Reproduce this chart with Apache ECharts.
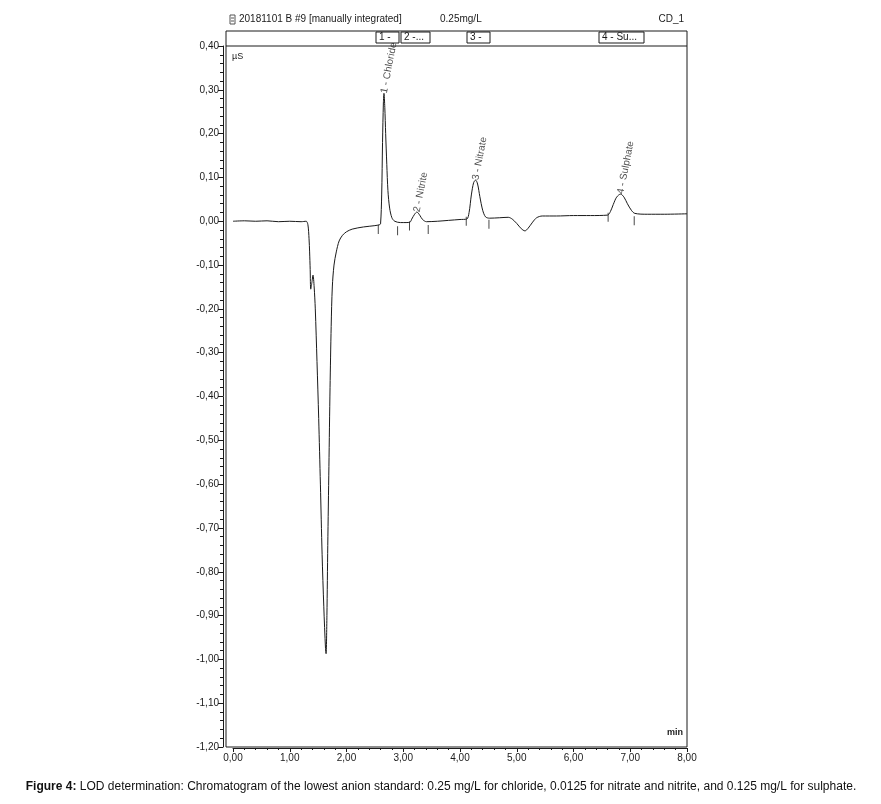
<!DOCTYPE html>
<html>
<head>
<meta charset="utf-8">
<script src="https://cdn.jsdelivr.net/npm/echarts@6/dist/echarts.min.js"></script>
<style>
html,body{margin:0;padding:0;background:#fff;}
#c{width:881px;height:804px;}
</style>
</head>
<body>
<div id="c"></div>
<script>
// Chromatogram trace (time in min, conductivity in µS)
var traceTime = [0,0.2,0.4,0.6,0.8,1.0,1.2,1.29,1.32,1.34,1.35,1.36,1.37,1.39,1.41,1.43,1.45,1.48,1.51,1.54,1.57,1.60,1.63,1.64,1.655,1.67,1.69,1.71,1.73,1.75,1.78,1.82,1.87,1.93,2.0,2.1,2.3,2.5,2.58,
  2.60,2.62,2.635,2.65,2.66,2.675,2.69,2.71,2.73,2.76,2.80,2.85,2.95,3.05,3.12,
  3.15,3.2,3.24,3.29,3.34,3.41,3.6,3.8,4.0,4.12,
  4.16,4.2,4.24,4.275,4.31,4.35,4.40,4.45,4.52,4.7,4.85,
  4.92,5.0,5.08,5.145,5.2,5.28,5.35,5.45,5.7,6.0,6.3,6.6,
  6.65,6.7,6.76,6.83,6.89,6.95,7.02,7.08,7.3,7.6,8.0];
var traceSignal = [0.000,0.001,0.000,0.001,-0.001,0.000,-0.001,0.000,-0.008,-0.04,-0.07,-0.11,-0.155,-0.14,-0.123,-0.15,-0.2,-0.32,-0.45,-0.6,-0.76,-0.88,-0.975,-0.987,-0.9,-0.74,-0.56,-0.38,-0.24,-0.15,-0.10,-0.07,-0.045,-0.032,-0.024,-0.018,-0.013,-0.010,-0.008,
  -0.006,0.06,0.18,0.27,0.292,0.26,0.2,0.13,0.07,0.03,0.008,0.0,-0.003,-0.003,-0.002,
  0.005,0.016,0.021,0.014,0.004,-0.001,0.0,0.002,0.004,0.005,
  0.02,0.06,0.088,0.094,0.085,0.056,0.025,0.01,0.007,0.008,0.009,
  0.005,-0.005,-0.017,-0.022,-0.016,-0.002,0.008,0.012,0.012,0.013,0.013,0.014,
  0.022,0.038,0.055,0.062,0.055,0.04,0.025,0.018,0.016,0.016,0.017];

// Peaks
var peakNames = ['1 - Chloride','2 - Nitrite','3 - Nitrate','4 - Sulphate'];
var peakTimes = [2.66,3.24,4.275,6.83];
var peakHeights = [0.292,0.021,0.094,0.062];

// Integration boundary markers
var markerTimes = [2.56,2.90,3.11,3.44,4.11,4.51,6.61,7.07];
var markerValues = [-0.012,-0.015,-0.004,-0.012,0.007,0.0,0.016,0.008];

// Axis ticks
var yMin = -1.2, yMax = 0.4, yStep = 0.1;
var xMin = 0, xMax = 8, xStep = 1;

// Header
var headerTitle = '20181101 B #9 [manually integrated]';
var headerConc = '0.25mg/L';
var headerChannel = 'CD_1';
var headerBoxes = ['1 -','2 -...','3 -','4 - Su...'];
var caption = 'LOD determination: Chromatogram of the lowest anion standard: 0.25 mg/L for chloride, 0.0125 for nitrate and nitrite, and 0.125 mg/L for sulphate.';

var chart = echarts.init(document.getElementById('c'));
var FONT = 'Liberation Sans, Arial, sans-serif';
var INK = '#1a1a1a';

var trace = traceTime.map(function(t,i){return [t, traceSignal[i]];});
var peaks = peakTimes.map(function(t,i){return {value:[t, peakHeights[i]], name: peakNames[i]};});
var markers = markerTimes.map(function(t,i){return [t, markerValues[i]];});

function comma(v){ return Number(v).toFixed(2).replace('.', ','); }

var gridL = 233, gridR = 194, gridT = 46, gridB = 57;
var frameL = 226, frameR = 687, frameT = 31, frameB = 747;

var boxX = [376, 401, 467, 599];
var boxW = [23, 29, 23, 45];
var graphics = [
  {type:'rect', z:1, shape:{x:frameL, y:frameT, width:frameR-frameL, height:frameB-frameT}, style:{fill:'none', stroke:INK, lineWidth:1}},
  {type:'line', z:1, shape:{x1:frameL, y1:46, x2:frameR, y2:46}, style:{stroke:INK, lineWidth:1}},
  {type:'rect', shape:{x:230, y:15, width:5, height:9}, style:{fill:'none', stroke:'#555', lineWidth:1}},
  {type:'line', shape:{x1:231, y1:18, x2:234, y2:18}, style:{stroke:'#555'}},
  {type:'line', shape:{x1:231, y1:21, x2:234, y2:21}, style:{stroke:'#555'}},
  {type:'text', x:239, y:19, style:{text:headerTitle, font:'10px '+FONT, fill:INK, verticalAlign:'middle'}},
  {type:'text', x:440, y:19, style:{text:headerConc, font:'10px '+FONT, fill:INK, verticalAlign:'middle'}},
  {type:'text', x:684, y:19, style:{text:headerChannel, font:'10px '+FONT, fill:INK, verticalAlign:'middle', align:'right'}},
  {type:'text', x:232, y:57, style:{text:'µS', font:'9px '+FONT, fill:INK, verticalAlign:'middle'}},
  {type:'text', x:683, y:733, style:{text:'min', font:'bold 9px '+FONT, fill:INK, verticalAlign:'middle', align:'right'}},
  {type:'text', x:441, y:787, style:{
    text:'{b|Figure 4:} '+caption,
    rich:{b:{font:'bold 12px "Liberation Sans Narrow", '+FONT, fill:'#111'}},
    font:'12px "Liberation Sans Narrow", '+FONT, fill:'#111', align:'center', verticalAlign:'middle'}}
];
headerBoxes.forEach(function(t,i){
  graphics.push({type:'rect', z:10, shape:{x:boxX[i], y:32, width:boxW[i], height:11}, style:{fill:'#fff', stroke:INK, lineWidth:1}});
  graphics.push({type:'text', z:11, x:boxX[i]+3, y:37.5, style:{text:t, font:'10px '+FONT, fill:INK, verticalAlign:'middle'}});
});

chart.setOption({
  animation:false,
  backgroundColor:'#fff',
  grid:{left:gridL, right:gridR, top:gridT, bottom:gridB, show:false},
  xAxis:{
    type:'value', min:xMin, max:xMax, interval:xStep, offset:1,
    axisLine:{show:true, onZero:false, lineStyle:{color:INK, width:1}},
    axisTick:{show:true, inside:false, length:4, lineStyle:{color:INK}},
    minorTick:{show:true, splitNumber:5, length:2, lineStyle:{color:INK}},
    splitLine:{show:false},
    axisLabel:{formatter:comma, fontFamily:FONT, fontSize:10, color:INK, margin:5}
  },
  yAxis:{
    type:'value', min:yMin, max:yMax, interval:yStep, offset:10,
    axisLine:{show:true, onZero:false, lineStyle:{color:INK, width:1}},
    axisTick:{show:true, inside:false, length:5, lineStyle:{color:INK}},
    minorTick:{show:true, splitNumber:5, length:3, lineStyle:{color:INK}},
    splitLine:{show:false},
    axisLabel:{formatter:comma, fontFamily:FONT, fontSize:10, color:INK, margin:4}
  },
  graphic:graphics,
  series:[
    {type:'line', data:trace, showSymbol:false, symbol:'none', smooth:0.3,
     lineStyle:{color:INK, width:1}, z:3},
    {type:'scatter', data:markers, symbol:'rect', symbolSize:[1,9], symbolOffset:[0,3],
     itemStyle:{color:INK}, z:4},
    {type:'scatter', data:peaks, symbolSize:0,
     label:{show:true, position:'inside', formatter:function(p){return p.name;}, rotate:79,
       align:'left', verticalAlign:'middle', fontFamily:FONT, fontSize:10, color:INK}, z:5}
  ]
});
</script>
</body>
</html>
